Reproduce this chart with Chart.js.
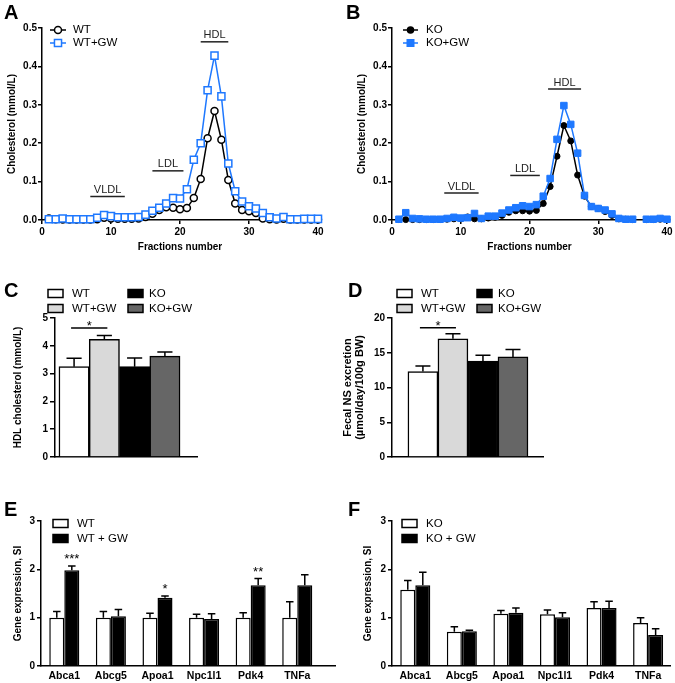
<!DOCTYPE html>
<html>
<head>
<meta charset="utf-8">
<script src="https://cdn.jsdelivr.net/npm/chart.js@4.4.1/dist/chart.umd.min.js"></script>
<style>
  body { margin: 0; background: #fff; width: 675px; height: 683px; position: relative; overflow: hidden; font-family: "Liberation Sans", Arial, sans-serif; }
  canvas { position: absolute; }
  .letter { position: absolute; font-weight: bold; font-size: 20px; line-height: 1; color: #000; }
</style>
</head>
<body>
<canvas id="chartA" width="335" height="255" style="left:0;top:0"></canvas>
<canvas id="chartB" width="340" height="255" style="left:335px;top:0"></canvas>
<canvas id="chartC" width="335" height="215" style="left:0;top:255px"></canvas>
<canvas id="chartD" width="340" height="215" style="left:335px;top:255px"></canvas>
<canvas id="chartE" width="340" height="213" style="left:0;top:470px"></canvas>
<canvas id="chartF" width="340" height="213" style="left:335px;top:470px"></canvas>
<div class="letter" style="left:4px;top:2px">A</div>
<div class="letter" style="left:346px;top:2px">B</div>
<div class="letter" style="left:4px;top:280px">C</div>
<div class="letter" style="left:348px;top:280px">D</div>
<div class="letter" style="left:4px;top:499px">E</div>
<div class="letter" style="left:348px;top:499px">F</div>
<script>
// --- lipoprotein profiles (A, B) ---
const fractions = [1, 2, 3, 4, 5, 6, 7, 8, 9, 10, 11, 12, 13, 14, 15, 16, 17, 18, 19, 20,
    21, 22, 23, 24, 25, 26, 27, 28, 29, 30, 31, 32, 33, 34, 35, 36, 37, 38, 39, 40];
const wtChol = [0.004, 0.002, 0.001, 0.001, 0.001, 0.001, 0.001, 0.002, 0.006, 0.004,
    0.003, 0.003, 0.003, 0.004, 0.008, 0.016, 0.026, 0.033, 0.032, 0.028,
    0.031, 0.057, 0.107, 0.213, 0.284, 0.209, 0.104, 0.043, 0.026, 0.023,
    0.018, 0.004, 0.002, 0.001, 0.003, 0.001, 0.001, 0.001, 0.001, 0.001];
const wtGwChol = [0.002, 0.002, 0.004, 0.002, 0.002, 0.002, 0.002, 0.006, 0.013, 0.010,
    0.007, 0.007, 0.007, 0.008, 0.014, 0.024, 0.032, 0.043, 0.057, 0.056,
    0.080, 0.157, 0.200, 0.338, 0.428, 0.322, 0.147, 0.075, 0.048, 0.036,
    0.030, 0.018, 0.007, 0.004, 0.008, 0.002, 0.002, 0.003, 0.003, 0.003];
const koChol = [0.001, 0.001, 0.001, 0.001, 0.001, 0.001, 0.001, 0.002, 0.003, 0.003,
    0.008, 0.003, 0.003, 0.005, 0.007, 0.012, 0.020, 0.024, 0.024, 0.023,
    0.025, 0.043, 0.087, 0.166, 0.246, 0.206, 0.117, 0.062, 0.035, 0.030,
    0.022, 0.012, 0.003, 0.002, 0.001, null, 0.001, 0.001, 0.002, 0.001];
const koGwChol = [0.002, 0.019, 0.004, 0.003, 0.002, 0.002, 0.002, 0.004, 0.007, 0.005,
    0.006, 0.017, 0.004, 0.010, 0.010, 0.018, 0.026, 0.032, 0.037, 0.035,
    0.040, 0.062, 0.108, 0.210, 0.298, 0.249, 0.174, 0.064, 0.035, 0.030,
    0.026, 0.016, 0.004, 0.002, 0.002, null, 0.002, 0.002, 0.004, 0.002];
const bandNames = ['VLDL', 'LDL', 'HDL'];
const bandFromA = [7, 16, 23];
const bandToA = [12, 20.5, 27];
const bandLevelA = [0.061, 0.128, 0.464];
const bandFromB = [7.6, 17.2, 22.7];
const bandToB = [12.6, 21.5, 27.5];
const bandLevelB = [0.070, 0.116, 0.341];

// --- HDL cholesterol (C) and fecal NS (D) ---
const groups = ['WT', 'WT+GW', 'KO', 'KO+GW'];
const hdlMean = [3.25, 4.23, 3.25, 3.63];
const hdlSem = [0.30, 0.14, 0.31, 0.15];
const fecalMean = [12.3, 17.0, 13.8, 14.4];
const fecalSem = [0.8, 0.75, 0.85, 1.05];

// --- gene expression (E, F) ---
const genes = ['Abca1', 'Abcg5', 'Apoa1', 'Npc1l1', 'Pdk4', 'TNFa'];
const wtExpr = [1.00, 1.00, 1.00, 1.00, 1.00, 1.00];
const wtExprSem = [0.13, 0.13, 0.09, 0.07, 0.10, 0.33];
const wtGwExpr = [1.98, 1.03, 1.41, 0.97, 1.67, 1.67];
const wtGwExprSem = [0.09, 0.14, 0.04, 0.11, 0.14, 0.22];
const wtGwStars = ['***', '', '*', '', '**', ''];
const koExpr = [1.58, 0.71, 1.08, 1.07, 1.20, 0.89];
const koExprSem = [0.19, 0.10, 0.07, 0.09, 0.13, 0.11];
const koGwExpr = [1.67, 0.72, 1.10, 1.01, 1.20, 0.64];
const koGwExprSem = [0.27, 0.02, 0.10, 0.09, 0.14, 0.13];

const FONT = '"Liberation Sans", Arial, Helvetica, sans-serif';
const BLUE = '#1e78ff';

function yAxis(o) {
    return {
        type: 'linear',
        min: o.min,
        max: o.max,
        afterFit: function (s) { s.width = o.width; },
        ticks: {
            stepSize: o.step,
            color: '#000',
            padding: o.pad,
            font: { family: FONT, size: 10, weight: 'bold' },
            callback: o.fmt || function (v) { return v; }
        },
        grid: { display: true, drawOnChartArea: false, drawTicks: true, tickLength: o.tick, color: '#000', lineWidth: 1.5 },
        border: { display: true, color: '#000', width: 1.5 },
        title: {
            display: true,
            text: o.title,
            color: '#000',
            font: { family: FONT, size: o.titleSize || 10, weight: 'bold', lineHeight: 1.1 },
            padding: { top: o.titlePad, bottom: 0 }
        }
    };
}

// bar chart x axis: linear so that the axis line can run past the last bar
function barXAxis(max, height, offset, count, labels) {
    return {
        type: 'linear',
        min: 0,
        max: max,
        offset: false,
        afterFit: function (s) { s.height = height; },
        afterBuildTicks: function (s) {
            const t = [];
            for (let i = 0; i < count; i++) t.push({ value: i + offset });
            s.ticks = t;
        },
        ticks: {
            display: !!labels,
            color: '#000',
            padding: 4,
            autoSkip: false,
            maxRotation: 0,
            font: { family: FONT, size: 10.5, weight: 'bold' },
            callback: function (v, i) { return labels ? labels[i] : ''; }
        },
        grid: { display: false, drawTicks: false, offset: false },
        border: { display: true, color: '#000', width: 1.5 }
    };
}

function makeExtras(cfg) {
    return {
        id: 'extras',
        afterDatasetsDraw: function (chart) {
            const ctx = chart.ctx;
            const xs = chart.scales.x;
            const ys = chart.scales.y;
            ctx.save();
            ctx.strokeStyle = '#000';
            ctx.fillStyle = '#000';
            ctx.lineWidth = 1.5;

            // error bars (upper only) and stars
            chart.data.datasets.forEach(function (ds, di) {
                if (!ds.errors) return;
                chart.getDatasetMeta(di).data.forEach(function (bar, i) {
                    const yTop = ys.getPixelForValue(ds.data[i].y + ds.errors[i]);
                    const cap = bar.width / 4;
                    ctx.beginPath();
                    ctx.moveTo(bar.x, bar.y);
                    ctx.lineTo(bar.x, yTop);
                    ctx.moveTo(bar.x - cap, yTop);
                    ctx.lineTo(bar.x + cap, yTop);
                    ctx.stroke();
                    if (ds.stars && ds.stars[i]) {
                        ctx.font = '13px ' + FONT;
                        ctx.textAlign = 'center';
                        ctx.textBaseline = 'alphabetic';
                        ctx.fillText(ds.stars[i], bar.x, yTop - 3);
                    }
                });
            });

            // fraction bands (VLDL / LDL / HDL)
            if (cfg.bands) {
                const b = cfg.bands;
                b.names.forEach(function (name, i) {
                    const x1 = xs.getPixelForValue(b.from[i]);
                    const x2 = xs.getPixelForValue(b.to[i]);
                    const y = ys.getPixelForValue(b.level[i]);
                    ctx.strokeStyle = '#222';
                    ctx.beginPath();
                    ctx.moveTo(x1, y);
                    ctx.lineTo(x2, y);
                    ctx.stroke();
                    ctx.fillStyle = '#222';
                    ctx.font = '11px ' + FONT;
                    ctx.textAlign = 'center';
                    ctx.textBaseline = 'bottom';
                    ctx.fillText(name, (x1 + x2) / 2, y - 1);
                });
            }

            // significance bracket
            if (cfg.sig) {
                const bars = chart.getDatasetMeta(0).data;
                const a = bars[cfg.sig.a];
                const b = bars[cfg.sig.b];
                const y = ys.getPixelForValue(cfg.sig.y);
                ctx.strokeStyle = '#000';
                ctx.fillStyle = '#000';
                ctx.beginPath();
                ctx.moveTo(a.x - 3, y);
                ctx.lineTo(b.x + 3, y);
                ctx.stroke();
                ctx.font = '13px ' + FONT;
                ctx.textAlign = 'center';
                ctx.textBaseline = 'alphabetic';
                ctx.fillText(cfg.sig.text, (a.x + b.x) / 2, y + 2);
            }

            // legend
            (cfg.legend || []).forEach(function (it) {
                ctx.lineWidth = 1.5;
                if (it.kind === 'line') {
                    ctx.strokeStyle = it.color;
                    ctx.beginPath();
                    ctx.moveTo(it.x, it.y);
                    ctx.lineTo(it.x + it.w, it.y);
                    ctx.stroke();
                    ctx.fillStyle = it.fill;
                    Chart.helpers.drawPoint(ctx, { pointStyle: it.pointStyle, radius: it.radius, borderWidth: 1.5, rotation: 0 }, it.x + it.w / 2, it.y);
                } else {
                    ctx.fillStyle = it.fill;
                    ctx.strokeStyle = '#000';
                    ctx.fillRect(it.x, it.y - 4, 15, 8);
                    ctx.strokeRect(it.x, it.y - 4, 15, 8);
                }
                ctx.fillStyle = '#000';
                ctx.font = '11.5px ' + FONT;
                ctx.textAlign = 'left';
                ctx.textBaseline = 'middle';
                ctx.fillText(it.text, it.tx, it.y);
            });
            ctx.restore();
        }
    };
}

function series(values) {
    return fractions.map(function (f, i) { return { x: f, y: values[i] }; });
}

function profileChart(id, padLeft, padRight, sets, bands, legend) {
    return new Chart(document.getElementById(id), {
        type: 'line',
        data: { datasets: sets },
        options: {
            responsive: false,
            animation: false,
            devicePixelRatio: 1,
            layout: { padding: { left: padLeft, right: padRight, top: 28, bottom: 0 } },
            plugins: { legend: { display: false }, tooltip: { enabled: false } },
            scales: {
                x: {
                    type: 'linear',
                    min: 0,
                    max: 40,
                    afterFit: function (s) { s.height = 35; },
                    ticks: { stepSize: 10, color: '#000', padding: 2, font: { family: FONT, size: 10, weight: 'bold' } },
                    grid: { display: true, drawOnChartArea: false, drawTicks: true, tickLength: 4, color: '#000', lineWidth: 1.5 },
                    border: { display: true, color: '#000', width: 1.5 },
                    title: {
                        display: true,
                        text: 'Fractions number',
                        color: '#000',
                        font: { family: FONT, size: 10, weight: 'bold' },
                        padding: { top: 0, bottom: 2 }
                    }
                },
                y: yAxis({ min: 0, max: 0.5, step: 0.1, width: 42, pad: 1, tick: 4, title: 'Cholesterol (mmol/L)', titlePad: 7,
                    fmt: function (v) { return v.toFixed(1); } })
            }
        },
        plugins: [makeExtras({ bands: bands, legend: legend })]
    });
}

profileChart('chartA', 0, 17, [
    { label: 'WT', data: series(wtChol), borderColor: '#000', borderWidth: 1.5, pointStyle: 'circle', pointRadius: 3.5,
      pointBackgroundColor: '#fff', pointBorderColor: '#000', pointBorderWidth: 1.5, tension: 0, clip: false, order: 2 },
    { label: 'WT+GW', data: series(wtGwChol), borderColor: BLUE, borderWidth: 1.5, pointStyle: 'rect', pointRadius: 5,
      pointBackgroundColor: '#fff', pointBorderColor: BLUE, pointBorderWidth: 1.5, tension: 0, clip: false, order: 1 }
], { names: bandNames, from: bandFromA, to: bandToA, level: bandLevelA }, [
    { kind: 'line', x: 50, y: 30, w: 16, color: '#000', fill: '#fff', pointStyle: 'circle', radius: 3.5, text: 'WT', tx: 73 },
    { kind: 'line', x: 50, y: 43, w: 16, color: BLUE, fill: '#fff', pointStyle: 'rect', radius: 5, text: 'WT+GW', tx: 73 }
]);

profileChart('chartB', 15, 8, [
    { label: 'KO', data: series(koChol), borderColor: '#000', borderWidth: 1.5, pointStyle: 'circle', pointRadius: 3,
      pointBackgroundColor: '#000', pointBorderColor: '#000', pointBorderWidth: 1, tension: 0, clip: false, order: 2 },
    { label: 'KO+GW', data: series(koGwChol), borderColor: BLUE, borderWidth: 1.5, pointStyle: 'rect', pointRadius: 4.6,
      pointBackgroundColor: BLUE, pointBorderColor: BLUE, pointBorderWidth: 1, tension: 0, clip: false, order: 1 }
], { names: bandNames, from: bandFromB, to: bandToB, level: bandLevelB }, [
    { kind: 'line', x: 68, y: 30, w: 15, color: '#000', fill: '#000', pointStyle: 'circle', radius: 3, text: 'KO', tx: 91 },
    { kind: 'line', x: 68, y: 43, w: 15, color: BLUE, fill: BLUE, pointStyle: 'rect', radius: 4.6, text: 'KO+GW', tx: 91 }
]);

function groupChart(id, o) {
    return new Chart(document.getElementById(id), {
        type: 'bar',
        data: {
            datasets: [{
                label: o.title,
                data: o.mean.map(function (v, i) { return { x: i + o.offset, y: v }; }),
                errors: o.sem,
                backgroundColor: ['#ffffff', '#d9d9d9', '#000000', '#666666'],
                borderColor: '#000',
                borderWidth: 1.5,
                categoryPercentage: 1,
                barPercentage: 1
            }]
        },
        options: {
            responsive: false,
            animation: false,
            devicePixelRatio: 1,
            layout: { padding: { left: 0, right: o.padRight, top: 63, bottom: 0 } },
            plugins: { legend: { display: false }, tooltip: { enabled: false } },
            scales: {
                x: barXAxis(o.xmax, 13, o.offset, groups.length, null),
                y: yAxis({ min: 0, max: o.ymax, step: o.step, width: o.yWidth, pad: 2, tick: 5, title: o.title,
                    titlePad: o.titlePad, titleSize: o.titleSize })
            }
        },
        plugins: [makeExtras({
            sig: { a: 0, b: 1, y: o.sigY, text: '*' },
            legend: [
                { kind: 'box', x: o.lx, y: 38.5, fill: '#ffffff', text: groups[0], tx: o.lx + 24 },
                { kind: 'box', x: o.lx, y: 53.5, fill: '#d9d9d9', text: groups[1], tx: o.lx + 24 },
                { kind: 'box', x: o.lx + 80, y: 38.5, fill: '#000000', text: groups[2], tx: o.lx + 101 },
                { kind: 'box', x: o.lx + 80, y: 53.5, fill: '#666666', text: groups[3], tx: o.lx + 101 }
            ]
        })]
    });
}

groupChart('chartC', { mean: hdlMean, sem: hdlSem, offset: 0.63, xmax: 4.69, padRight: 138, ymax: 5, step: 1,
    yWidth: 55, title: 'HDL cholesterol (mmol/L)', titlePad: 13, sigY: 4.64, lx: 48 });
groupChart('chartD', { mean: fecalMean, sem: fecalSem, offset: 1.03, xmax: 5.03, padRight: 132, ymax: 20, step: 5,
    yWidth: 57, title: ['Fecal NS excretion', '(\u00b5mol/day/100g BW)'], titlePad: 7, titleSize: 11, sigY: 18.6, lx: 62 });

function geneChart(id, o) {
    function ds(label, mean, sem, fill, stars) {
        return {
            label: label,
            data: mean.map(function (v, i) { return { x: i + 0.5, y: v }; }),
            errors: sem,
            stars: stars,
            backgroundColor: fill,
            borderColor: '#000',
            borderWidth: 1.5,
            categoryPercentage: 0.645,
            barPercentage: 1
        };
    }
    return new Chart(document.getElementById(id), {
        type: 'bar',
        data: {
            datasets: [
                ds(o.names[0], o.a, o.aSem, '#ffffff', null),
                ds(o.names[1], o.b, o.bSem, '#000000', o.stars)
            ]
        },
        options: {
            responsive: false,
            animation: false,
            devicePixelRatio: 1,
            layout: { padding: { left: o.padLeft, right: 5, top: 51, bottom: 0 } },
            plugins: { legend: { display: false }, tooltip: { enabled: false } },
            scales: {
                x: barXAxis(o.xmax, 17, 0.5, genes.length, genes),
                y: yAxis({ min: 0, max: 3, step: 1, width: o.yWidth, pad: 2, tick: 4, title: 'Gene expression, SI', titlePad: 13 })
            }
        },
        plugins: [makeExtras({
            legend: [
                { kind: 'box', x: o.lx, y: 523.5 - 470, fill: '#ffffff', text: o.names[0], tx: o.lx + 24 },
                { kind: 'box', x: o.lx, y: 538.5 - 470, fill: '#000000', text: o.names[1], tx: o.lx + 24 }
            ]
        })]
    });
}

geneChart('chartE', { names: ['WT', 'WT + GW'], a: wtExpr, aSem: wtExprSem, b: wtGwExpr, bSem: wtGwExprSem,
    stars: wtGwStars, padLeft: 0, yWidth: 41, xmax: 6.31, lx: 53 });
geneChart('chartF', { names: ['KO', 'KO + GW'], a: koExpr, aSem: koExprSem, b: koGwExpr, bSem: koGwExprSem,
    stars: null, padLeft: 15, yWidth: 42, xmax: 5.97, lx: 67 });
</script>
</body>
</html>
